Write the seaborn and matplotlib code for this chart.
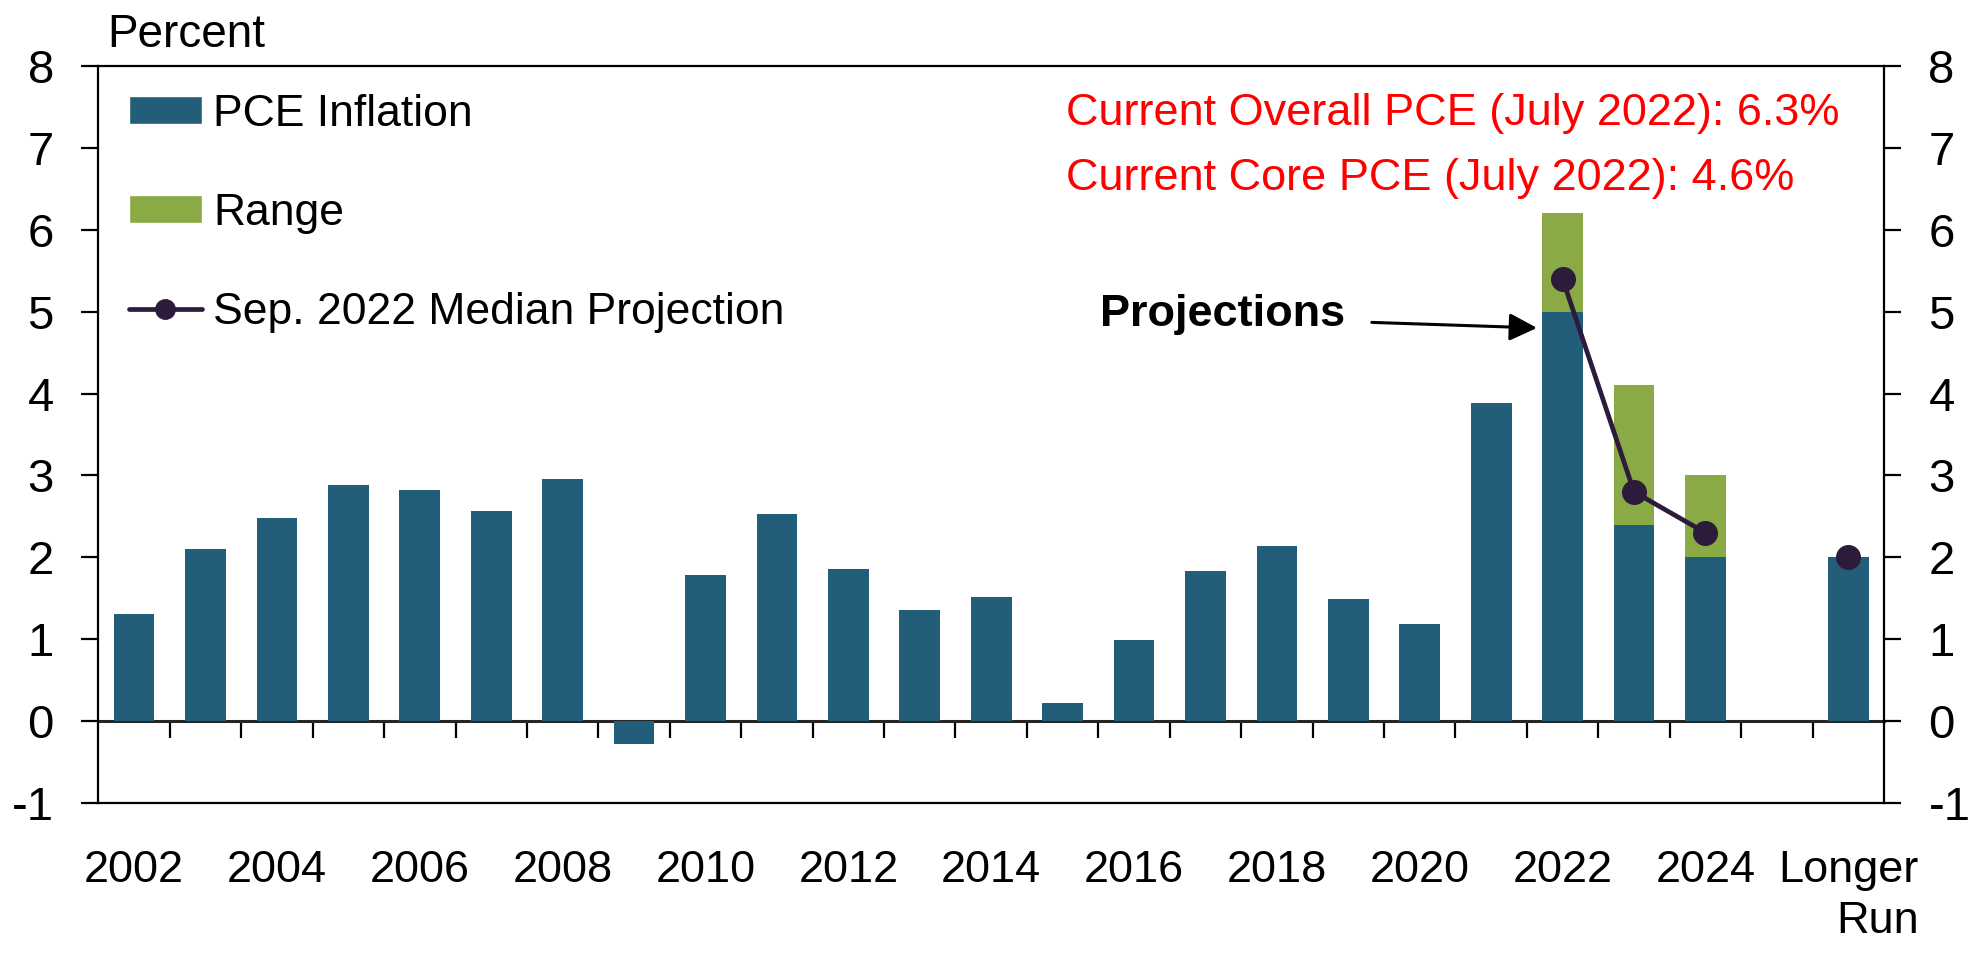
import numpy as np
import pandas as pd
import matplotlib
matplotlib.use("Agg")
import matplotlib.pyplot as plt
from matplotlib.patches import Patch
from matplotlib.lines import Line2D
import seaborn as sns

# Data
categories = ['2002', '2003', '2004', '2005', '2006', '2007', '2008', '2009', '2010',
              '2011', '2012', '2013', '2014', '2015', '2016', '2017', '2018', '2019',
              '2020', '2021', '2022', '2023', '2024', ' ', 'Longer\nRun']
pce = [1.31, 2.10, 2.48, 2.88, 2.82, 2.56, 2.96, -0.28, 1.79, 2.53, 1.86, 1.36, 1.51,
       0.22, 0.99, 1.83, 2.14, 1.49, 1.19, 3.88, 5.0, 2.4, 2.0, np.nan, 2.0]
range_years = ['2022', '2023', '2024']
range_top = [6.2, 4.1, 3.0]
median_cats = ['2022', '2023', '2024', 'Longer\nRun']
median_vals = [5.4, 2.8, 2.3, 2.0]
tick_cats = ['2002', '2004', '2006', '2008', '2010', '2012', '2014', '2016', '2018',
             '2020', '2022', '2024', 'Longer\nRun']

blue = '#225E79'
green = '#89AA45'
dark = '#2D1B3C'

sns.set_style('white')
plt.rcParams['font.family'] = ['Liberation Sans', 'DejaVu Sans']
plt.rcParams['text.color'] = 'black'
plt.rcParams['xtick.color'] = 'black'
plt.rcParams['ytick.color'] = 'black'
plt.rcParams['axes.labelcolor'] = 'black'
plt.rcParams['axes.unicode_minus'] = False

fig = plt.figure(figsize=(19.8, 9.55), dpi=100)
ax = fig.add_axes([0.0497, 0.1592, 0.9018, 0.7717])

df = pd.DataFrame({'cat': categories, 'pce': pce})
rng = pd.DataFrame({'cat': range_years, 'top': range_top})

# range bars first, PCE bars drawn over them
sns.barplot(data=rng, x='cat', y='top', order=categories, color=green, saturation=1,
            width=0.57, errorbar=None, linewidth=0, ax=ax)
sns.barplot(data=df, x='cat', y='pce', order=categories, color=blue, saturation=1,
            width=0.57, errorbar=None, linewidth=0, ax=ax)

# median projection line (gap before longer run breaks the line)
med = pd.Series(median_vals, index=median_cats).reindex(categories)
ax.plot(np.arange(len(categories)), med.values, color=dark, lw=3.4, marker='o',
        markersize=17, zorder=5)

ymin, ymax = -1, 8
ax.set_ylim(ymin, ymax)
ax.set_xlim(-0.5, len(categories) - 0.5)
ax.set_yticks(range(-1, 9))
ax.set_xlabel('')
ax.set_ylabel('')

pos = [categories.index(c) for c in tick_cats]
ax.set_xticks(pos)
ax.set_xticklabels(tick_cats)
for lab in ax.get_xticklabels():
    lab.set_multialignment('right')
    lab.set_linespacing(1.3)

ax.tick_params(axis='x', length=0, pad=34, labelsize=32.5)
ax.tick_params(axis='y', which='both', left=True, right=True, labelleft=True,
               labelright=True, direction='out', length=12, width=1.6,
               labelsize=34, pad=20)
for s in ax.spines.values():
    s.set_visible(True)
    s.set_color('black')
    s.set_linewidth(1.6)

# zero line carrying the category boundary ticks
sec = ax.secondary_xaxis((0 - ymin) / (ymax - ymin))
sec.set_xticks(np.arange(0.5, len(categories) - 1, 1))
sec.tick_params(direction='out', length=12, width=1.6, labelbottom=False,
                labeltop=False)
sec.spines['bottom'].set_linewidth(2.2)
sec.spines['top'].set_linewidth(2.2)

# legend
handles = [Patch(facecolor=blue, label='PCE Inflation'),
           Patch(facecolor=green, label='Range'),
           Line2D([0], [0], color=dark, lw=3.4, marker='o', markersize=14,
                  label='Sep. 2022 Median Projection')]
ax.legend(handles=handles, loc='upper left', bbox_to_anchor=(0.017, 0.962),
          frameon=False, fontsize=32, handlelength=1.65, handleheight=0.6,
          handletextpad=0.25, labelspacing=1.3, borderpad=0, borderaxespad=0)

# annotations
fig.text(0.054, 0.963, 'Percent', fontsize=33, va='center', ha='left')
ax.text(13.05, 7.42, 'Current Overall PCE (July 2022): 6.3%', color='red',
        fontsize=32.5, va='center', ha='left')
ax.text(13.05, 6.62, 'Current Core PCE (July 2022): 4.6%', color='red',
        fontsize=32.5, va='center', ha='left')
ax.text(13.52, 4.96, 'Projections', fontsize=32.5, fontweight='bold', va='center',
        ha='left')
ax.annotate('', xy=(19.68, 4.8), xytext=(17.29, 4.87),
            arrowprops=dict(arrowstyle='-|>', color='black', lw=2.2,
                            mutation_scale=42))

fig.savefig('out.png', dpi=100)
